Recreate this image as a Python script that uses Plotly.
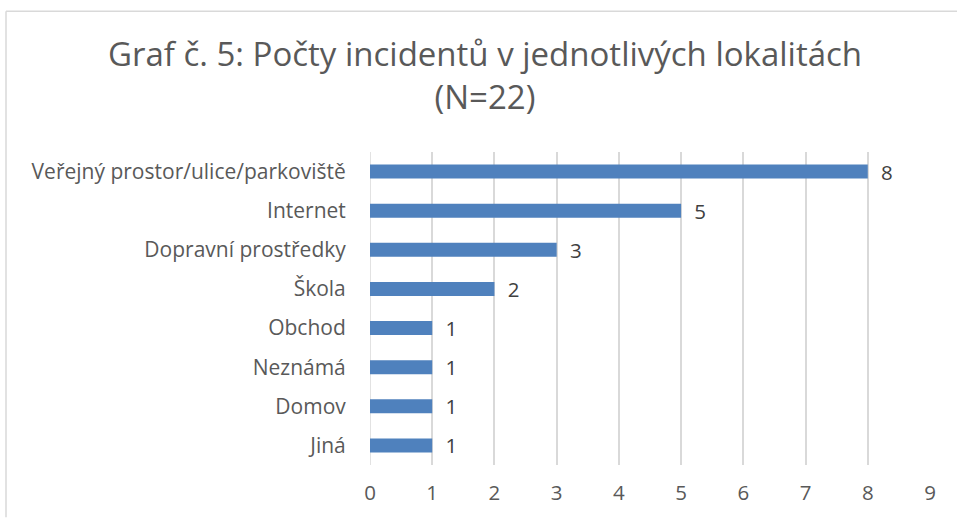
import plotly.graph_objects as go

categories = ["Veřejný prostor/ulice/parkoviště", "Internet", "Dopravní prostředky",
              "Škola", "Obchod", "Neznámá", "Domov", "Jiná"]
values = [8, 5, 3, 2, 1, 1, 1, 1]
x_ticks = [0, 1, 2, 3, 4, 5, 6, 7, 8, 9]

W, H = 957, 518
ML, MR, MT, MB = 370, 27, 152, 48
PW, PH = W - ML - MR, H - MT - MB

def px_x(px):
    return (px - ML) / PW

def px_y(py):
    return (H - MB - py) / PH

FONT = "Open Sans"
GRAY = "#595959"

fig = go.Figure(go.Bar(
    x=values, y=categories, orientation="h",
    marker=dict(color="#4F81BD", line=dict(width=0)),
    texttemplate="\u2002%{x}", textposition="outside",
    constraintext="none",
    textfont=dict(family=FONT, size=20.5, color="#404040"),
    cliponaxis=False,
    hoverinfo="skip",
))

fig.update_layout(
    width=W, height=H,
    margin=dict(l=ML, r=MR, t=MT, b=MB),
    paper_bgcolor="white", plot_bgcolor="white",
    bargap=0.64,
    showlegend=False,
    title=dict(text="Graf č. 5: Počty incidentů v jednotlivých lokalitách<br>(N=22)",
               x=485 / W, xanchor="center", xref="container",
               y=1 - 66 / H, yanchor="top", yref="container",
               font=dict(family=FONT, size=33, color=GRAY)),
    xaxis=dict(range=[0, 9], tickvals=x_ticks, showgrid=True, gridcolor="#d9d9d9",
               gridwidth=1.5, zeroline=False, showline=False,
               ticks="outside", ticklen=9, tickcolor="rgba(0,0,0,0)",
               tickfont=dict(family=FONT, size=20.5, color=GRAY), fixedrange=True),
    yaxis=dict(autorange="reversed", showgrid=False, zeroline=False, showline=False,
               ticks="outside", ticklen=19, tickcolor="rgba(0,0,0,0)",
               tickfont=dict(family=FONT, size=21, color=GRAY)),
    shapes=[
        dict(type="line", xref="paper", yref="paper", x0=px_x(6), x1=px_x(W + 5),
             y0=px_y(9), y1=px_y(9), line=dict(color="#d9d9d9", width=1.5)),
        dict(type="line", xref="paper", yref="paper", x0=px_x(6), x1=px_x(6),
             y0=px_y(9), y1=px_y(H + 5), line=dict(color="#d9d9d9", width=1.5)),
        dict(type="line", xref="x", yref="paper", x0=0, x1=0, y0=0, y1=1,
             line=dict(color="#d9d9d9", width=1.5), layer="below"),
    ],
)

fig.write_html("out.html", config={"displayModeBar": False},
               post_script="document.body.style.margin='0';")
